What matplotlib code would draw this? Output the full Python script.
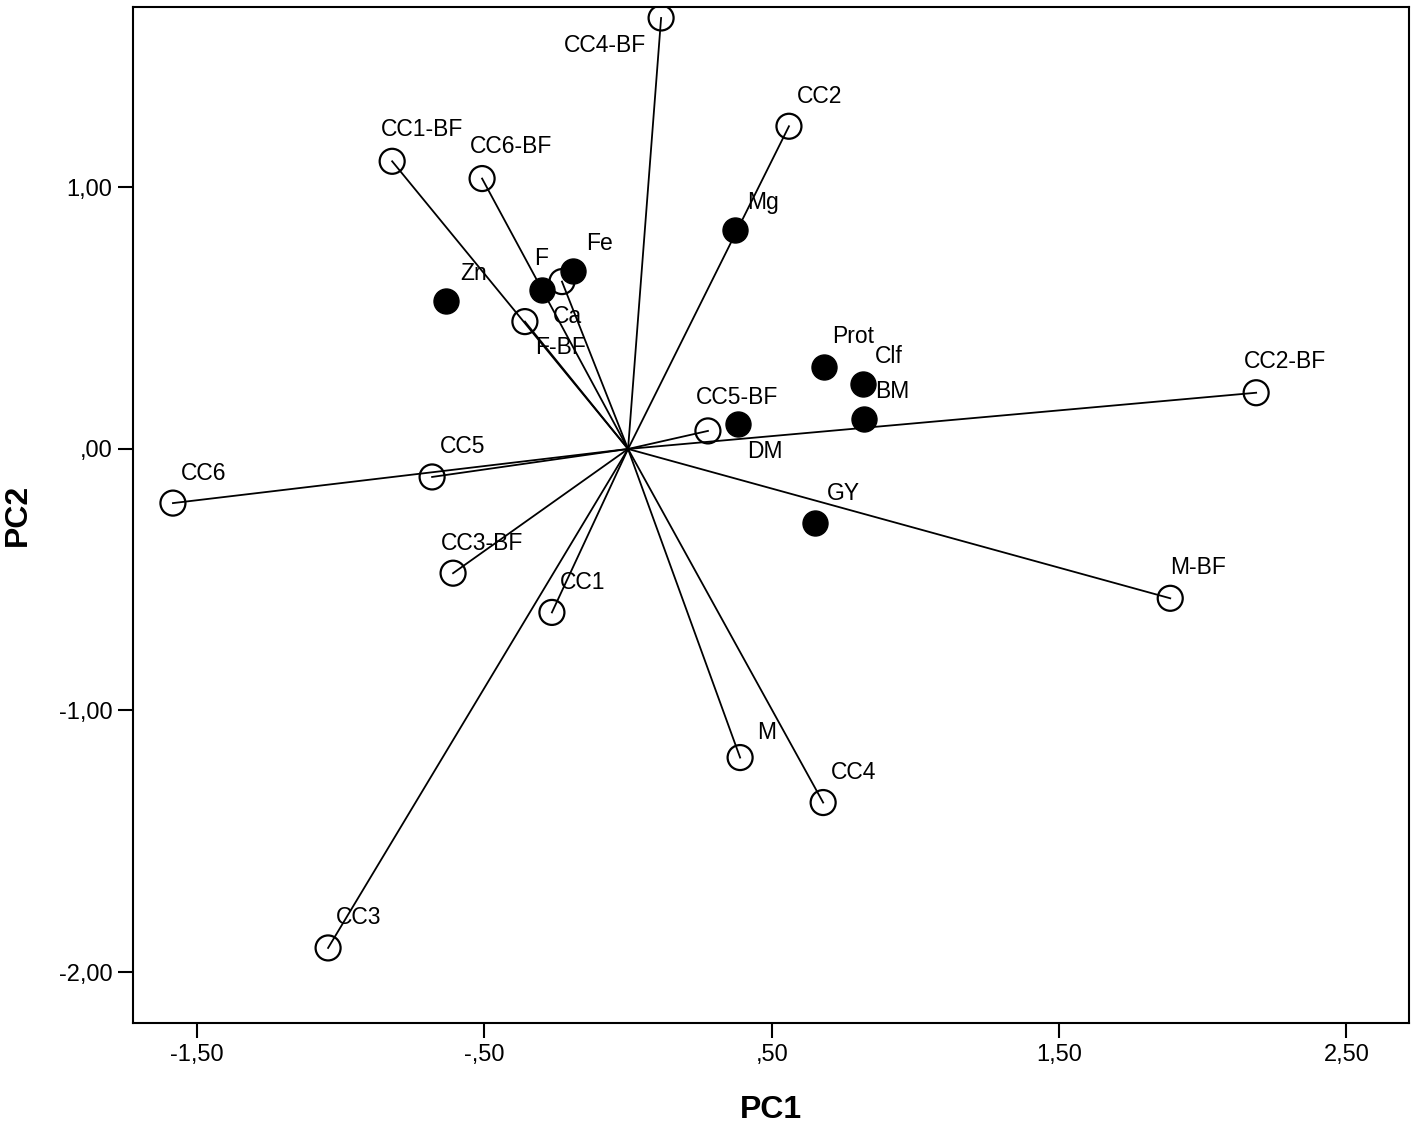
import matplotlib
matplotlib.use("Agg")
import matplotlib.pyplot as plt
from matplotlib.ticker import FuncFormatter

plt.rcParams['font.family'] = ['Liberation Sans', 'DejaVu Sans']

# treatments (open circles, drawn as vectors from the origin)
treat_names = ["CC4-BF", "CC2", "CC1-BF", "CC6-BF", "Ca", "F-BF", "CC5-BF", "CC2-BF",
               "CC5", "CC6", "CC3-BF", "CC1", "M", "CC4", "M-BF", "CC3"]
treat_pc1 = [0.115, 0.560, -0.821, -0.508, -0.230, -0.359, 0.278, 2.186,
             -0.682, -1.584, -0.609, -0.265, 0.390, 0.679, 1.887, -1.044]
treat_pc2 = [1.648, 1.234, 1.100, 1.034, 0.640, 0.487, 0.069, 0.215,
             -0.107, -0.207, -0.475, -0.625, -1.180, -1.352, -0.571, -1.908]

# variables (filled circles)
var_names = ["Mg", "Fe", "F", "Zn", "Prot", "Clf", "BM", "DM", "GY"]
var_pc1 = [0.372, -0.191, -0.299, -0.633, 0.682, 0.818, 0.821, 0.383, 0.651]
var_pc2 = [0.839, 0.682, 0.609, 0.567, 0.314, 0.249, 0.115, 0.096, -0.284]

xticks = [-1.5, -0.5, 0.5, 1.5, 2.5]
yticks = [-2.0, -1.0, 0.0, 1.0]

# label offsets in pixels (left edge, vertical centre), default above-right
default_off = (8, 30)
label_off = {
    "CC4-BF": (-57, -28), "CC1-BF": (-11, 32), "CC6-BF": (-12, 32),
    "Ca": (-9, -35), "F-BF": (10, -26), "CC5-BF": (-12, 33), "CC2-BF": (-12, 31),
    "CC3-BF": (-12, 30), "M": (17, 25), "M-BF": (0, 31),
    "Mg": (12, 27), "Fe": (13, 27), "F": (-8, 31), "Zn": (14, 27),
    "Clf": (12, 27), "BM": (11, 27), "DM": (9, -28), "GY": (12, 30),
}
label_right = {"CC4-BF"}


def spss_fmt(v, pos):
    s = "%.2f" % v
    s = s.replace(".", ",")
    if s.startswith("0,"):
        s = s[1:]
    elif s.startswith("-0,"):
        s = "-" + s[2:]
    if s == "-,00":
        s = ",00"
    return s


fig = plt.figure(figsize=(14.17, 11.27), dpi=100)
ax = fig.add_axes([133 / 1417, 104 / 1127, 1276 / 1417, 1016 / 1127])

for x, y in zip(treat_pc1, treat_pc2):
    ax.plot([0, x], [0, y], color='black', lw=1.3, zorder=2)

ax.scatter(treat_pc1, treat_pc2, s=18 ** 2, facecolors='none', edgecolors='black',
           linewidths=1.6, zorder=3)
ax.scatter(var_pc1, var_pc2, s=18 ** 2, color='black', zorder=4)

for names, xs, ys in [(treat_names, treat_pc1, treat_pc2), (var_names, var_pc1, var_pc2)]:
    for n, x, y in zip(names, xs, ys):
        dx, dy = label_off.get(n, default_off)
        ha = 'left'
        if n in label_right:
            ha = 'right'
            dx = -15
        ax.annotate(n, (x, y), xytext=(dx, dy), textcoords='offset pixels',
                    ha=ha, va='center', fontsize=16.5, zorder=5)

ax.set_xlim(-1.723, 2.718)
ax.set_ylim(-2.195, 1.69)
ax.set_xticks(xticks)
ax.set_yticks(yticks)
ax.xaxis.set_major_formatter(FuncFormatter(spss_fmt))
ax.yaxis.set_major_formatter(FuncFormatter(spss_fmt))
ax.tick_params(direction='out', length=11, width=1.5, labelsize=17, pad=4)

for sp in ax.spines.values():
    sp.set_linewidth(1.5)
    sp.set_color('black')

ax.set_xlabel("PC1", fontsize=23, fontweight='bold', va='center')
ax.xaxis.set_label_coords(0.5, -0.0856)
ax.set_ylabel("PC2", fontsize=23, fontweight='bold', va='center')
ax.yaxis.set_label_coords(-0.0901, 0.5)

fig.savefig("out.png", dpi=100)
